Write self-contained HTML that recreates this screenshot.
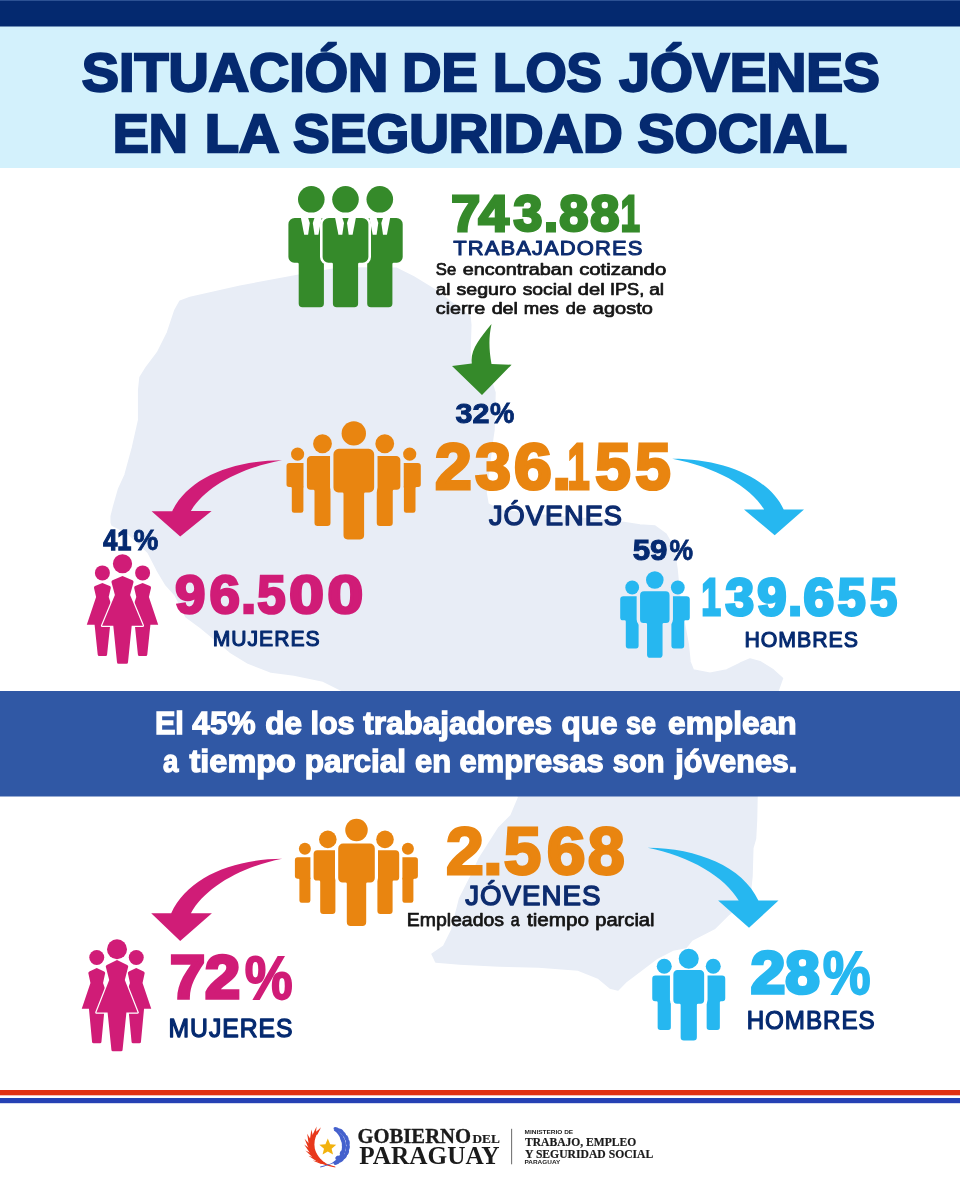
<!DOCTYPE html>
<html lang="es">
<head>
<meta charset="utf-8">
<title>Situación de los jóvenes en la seguridad social</title>
<style>
html,body{margin:0;padding:0;background:#ffffff;}
body{width:960px;height:1200px;overflow:hidden;font-family:"Liberation Sans",sans-serif;}
svg{display:block;}
text{white-space:pre;}
</style>
</head>
<body>
<svg width="960" height="1200" viewBox="0 0 960 1200">
<defs>
<mask id="m1" maskUnits="userSpaceOnUse" x="280" y="415" width="150" height="130"><rect x="280" y="415" width="150" height="130" fill="#fff"/><g fill="#000" stroke="#000" stroke-width="6.8" stroke-linejoin="round"><circle cx="322.50" cy="443.75" r="9.40"/><path d="M311.11,455.90 H333.89 A4.21,4.21 0 0 1 338.10,460.11 V485.96 A3.74,3.74 0 0 1 334.36,489.70 H331.70 A1.20,1.20 0 0 0 330.50,490.90 V522.70 A3.20,3.20 0 0 1 327.30,525.90 H317.70 A3.20,3.20 0 0 1 314.50,522.70 V490.90 A1.20,1.20 0 0 0 313.30,489.70 H310.64 A3.74,3.74 0 0 1 306.90,485.96 V460.11 A4.21,4.21 0 0 1 311.11,455.90 Z"/><circle cx="384.75" cy="443.75" r="9.40"/><path d="M373.36,455.90 H396.14 A4.21,4.21 0 0 1 400.35,460.11 V485.96 A3.74,3.74 0 0 1 396.61,489.70 H393.95 A1.20,1.20 0 0 0 392.75,490.90 V522.70 A3.20,3.20 0 0 1 389.55,525.90 H379.95 A3.20,3.20 0 0 1 376.75,522.70 V490.90 A1.20,1.20 0 0 0 375.55,489.70 H372.89 A3.74,3.74 0 0 1 369.15,485.96 V460.11 A4.21,4.21 0 0 1 373.36,455.90 Z"/></g><g fill="#000" stroke="#000" stroke-width="6.8" stroke-linejoin="round"><circle cx="353.80" cy="433.40" r="12.20"/><path d="M338.94,448.80 H368.66 A5.49,5.49 0 0 1 374.15,454.29 V487.62 A4.88,4.88 0 0 1 369.27,492.50 H365.30 A1.20,1.20 0 0 0 364.10,493.70 V535.28 A4.12,4.12 0 0 1 359.98,539.40 H347.62 A4.12,4.12 0 0 1 343.50,535.28 V493.70 A1.20,1.20 0 0 0 342.30,492.50 H338.33 A4.88,4.88 0 0 1 333.45,487.62 V454.29 A5.49,5.49 0 0 1 338.94,448.80 Z"/></g></mask>
<mask id="m2" maskUnits="userSpaceOnUse" x="280" y="415" width="150" height="130"><rect x="280" y="415" width="150" height="130" fill="#fff"/><g fill="#000" stroke="#000" stroke-width="6.8" stroke-linejoin="round"><circle cx="353.80" cy="433.40" r="12.20"/><path d="M338.94,448.80 H368.66 A5.49,5.49 0 0 1 374.15,454.29 V487.62 A4.88,4.88 0 0 1 369.27,492.50 H365.30 A1.20,1.20 0 0 0 364.10,493.70 V535.28 A4.12,4.12 0 0 1 359.98,539.40 H347.62 A4.12,4.12 0 0 1 343.50,535.28 V493.70 A1.20,1.20 0 0 0 342.30,492.50 H338.33 A4.88,4.88 0 0 1 333.45,487.62 V454.29 A5.49,5.49 0 0 1 338.94,448.80 Z"/></g></mask>
<mask id="m3" maskUnits="userSpaceOnUse" x="290" y="815" width="135" height="115"><rect x="290" y="815" width="135" height="115" fill="#fff"/><g fill="#000" stroke="#000" stroke-width="6.4" stroke-linejoin="round"><circle cx="327.80" cy="839.40" r="8.80"/><path d="M317.43,850.25 H338.17 A3.83,3.83 0 0 1 342.00,854.08 V877.19 A3.41,3.41 0 0 1 338.59,880.60 H336.60 A1.20,1.20 0 0 0 335.40,881.80 V910.96 A3.04,3.04 0 0 1 332.36,914.00 H323.24 A3.04,3.04 0 0 1 320.20,910.96 V881.80 A1.20,1.20 0 0 0 319.00,880.60 H317.01 A3.41,3.41 0 0 1 313.60,877.19 V854.08 A3.83,3.83 0 0 1 317.43,850.25 Z"/><circle cx="385.00" cy="839.40" r="8.80"/><path d="M374.63,850.25 H395.37 A3.83,3.83 0 0 1 399.20,854.08 V877.19 A3.41,3.41 0 0 1 395.79,880.60 H393.80 A1.20,1.20 0 0 0 392.60,881.80 V910.96 A3.04,3.04 0 0 1 389.56,914.00 H380.44 A3.04,3.04 0 0 1 377.40,910.96 V881.80 A1.20,1.20 0 0 0 376.20,880.60 H374.21 A3.41,3.41 0 0 1 370.80,877.19 V854.08 A3.83,3.83 0 0 1 374.63,850.25 Z"/></g><g fill="#000" stroke="#000" stroke-width="6.4" stroke-linejoin="round"><circle cx="356.50" cy="830.00" r="11.25"/><path d="M343.14,843.50 H369.86 A4.94,4.94 0 0 1 374.80,848.44 V878.11 A4.39,4.39 0 0 1 370.41,882.50 H367.40 A1.20,1.20 0 0 0 366.20,883.70 V922.12 A3.88,3.88 0 0 1 362.32,926.00 H350.68 A3.88,3.88 0 0 1 346.80,922.12 V883.70 A1.20,1.20 0 0 0 345.60,882.50 H342.59 A4.39,4.39 0 0 1 338.20,878.11 V848.44 A4.94,4.94 0 0 1 343.14,843.50 Z"/></g></mask>
<mask id="m4" maskUnits="userSpaceOnUse" x="290" y="815" width="135" height="115"><rect x="290" y="815" width="135" height="115" fill="#fff"/><g fill="#000" stroke="#000" stroke-width="6.4" stroke-linejoin="round"><circle cx="356.50" cy="830.00" r="11.25"/><path d="M343.14,843.50 H369.86 A4.94,4.94 0 0 1 374.80,848.44 V878.11 A4.39,4.39 0 0 1 370.41,882.50 H367.40 A1.20,1.20 0 0 0 366.20,883.70 V922.12 A3.88,3.88 0 0 1 362.32,926.00 H350.68 A3.88,3.88 0 0 1 346.80,922.12 V883.70 A1.20,1.20 0 0 0 345.60,882.50 H342.59 A4.39,4.39 0 0 1 338.20,878.11 V848.44 A4.94,4.94 0 0 1 343.14,843.50 Z"/></g></mask>
<mask id="m5" maskUnits="userSpaceOnUse" x="615" y="568" width="80" height="94"><rect x="615" y="568" width="80" height="94" fill="#fff"/><g fill="#000" stroke="#000" stroke-width="6.8" stroke-linejoin="round"><circle cx="654.80" cy="580.00" r="8.80"/><path d="M644.03,591.25 H665.57 A3.98,3.98 0 0 1 669.55,595.23 V619.56 A3.54,3.54 0 0 1 666.01,623.10 H663.75 A1.20,1.20 0 0 0 662.55,624.30 V654.70 A3.10,3.10 0 0 1 659.45,657.80 H650.15 A3.10,3.10 0 0 1 647.05,654.70 V624.30 A1.20,1.20 0 0 0 645.85,623.10 H643.59 A3.54,3.54 0 0 1 640.05,619.56 V595.23 A3.98,3.98 0 0 1 644.03,591.25 Z"/></g></mask>
<mask id="m6" maskUnits="userSpaceOnUse" x="648" y="945" width="82" height="100"><rect x="648" y="945" width="82" height="100" fill="#fff"/><g fill="#000" stroke="#000" stroke-width="6.8" stroke-linejoin="round"><circle cx="688.75" cy="958.75" r="10.00"/><path d="M677.51,970.00 H699.99 A4.16,4.16 0 0 1 704.15,974.16 V1000.05 A3.70,3.70 0 0 1 700.45,1003.75 H698.05 A1.20,1.20 0 0 0 696.85,1004.95 V1037.26 A3.24,3.24 0 0 1 693.61,1040.50 H683.89 A3.24,3.24 0 0 1 680.65,1037.26 V1004.95 A1.20,1.20 0 0 0 679.45,1003.75 H677.05 A3.70,3.70 0 0 1 673.35,1000.05 V974.16 A4.16,4.16 0 0 1 677.51,970.00 Z"/></g></mask>
<mask id="m7" maskUnits="userSpaceOnUse" x="80" y="550" width="85" height="118"><rect x="80" y="550" width="85" height="118" fill="#fff"/><g fill="#000" stroke="#000" stroke-width="2.4" stroke-linejoin="round"><path d="M122.50,575.90 L132.50,580.30 Q133.70,580.90 133.50,582.20 L130.10,595.00 L142.90,625.70 L131.70,625.70 L128.00,662.15 Q128.00,663.75 126.40,663.75 H118.60 Q117.00,663.75 117.00,662.15 L113.30,625.70 L102.10,625.70 L114.90,595.00 L111.50,582.20 Q111.30,580.90 112.50,580.30 Z"/></g></mask>
<mask id="m8" maskUnits="userSpaceOnUse" x="75" y="935" width="85" height="121"><rect x="75" y="935" width="85" height="121" fill="#fff"/><g fill="#000" stroke="#000" stroke-width="2.4" stroke-linejoin="round"><path d="M117.00,960.00 L127.20,964.90 Q128.40,965.50 128.20,966.80 L124.80,980.00 L137.60,1012.50 L126.40,1012.50 L122.60,1049.65 Q122.60,1051.25 121.00,1051.25 H113.00 Q111.40,1051.25 111.40,1049.65 L107.60,1012.50 L96.40,1012.50 L109.20,980.00 L105.80,966.80 Q105.60,965.50 106.80,964.90 Z"/></g></mask>
<mask id="m9" maskUnits="userSpaceOnUse" x="280" y="180" width="130" height="135"><rect x="280" y="180" width="130" height="135" fill="#fff"/><g fill="#000" stroke="#000" stroke-width="5.2" stroke-linejoin="round"><path d="M328.90,218.00 H362.10 A6.30,6.30 0 0 1 368.40,224.30 V256.90 A5.80,5.80 0 0 1 362.60,262.70 H359.30 A1.20,1.20 0 0 0 358.10,263.90 V303.50 A3.80,3.80 0 0 1 354.30,307.30 H336.70 A3.80,3.80 0 0 1 332.90,303.50 V263.90 A1.20,1.20 0 0 0 331.70,262.70 H328.40 A5.80,5.80 0 0 1 322.60,256.90 V224.30 A6.30,6.30 0 0 1 328.90,218.00 Z"/></g></mask>
</defs>
<rect x="0" y="0" width="960" height="1200" fill="#ffffff"/>
<rect x="0" y="26" width="960" height="142" fill="#D3F1FC"/>
<rect x="0" y="0" width="960" height="26.5" fill="#04296F"/>
<rect x="0" y="0" width="960" height="1" fill="#2C5193"/>
<path fill="#E8EDF6" stroke="#E8EDF6" stroke-width="1.5" stroke-linejoin="round" d="M180,301.2 L190,297.5 L240,286.2 L300,275 L340,268 L396.7,268.3 L413.3,276.7 L435,290 L455,305 L470,316.7 L470.8,325 L470,350 L471,366 L480,372 L491,380 L495,392.5 L494,430 L492.5,440 L486,492.5 L488,504 L500,510 L540,515 L590,519 L624,522.5 L640,525 L655,526 L666,534 L674,548 L677,569 L680,600 L688.3,645 L690,661.7 L693.3,670 L710,673.3 L726.7,670 L740,663.3 L750,659 L760,661.7 L773.3,670 L782.5,678.3 L778.3,690 L765,740 L757,796.6 L756.5,820 L755.5,838.7 L752.8,848 L752,876 L750,895 L740,905 L727.5,915.6 L714.4,928.7 L692,940 L686,947.5 L673,950 L657.5,958 L641.7,970 L625.8,982 L618,990 L610,988 L598,978 L578,970 L538.7,967 L499,966 L459.6,964 L435.8,962 L432,954 L443.7,946 L451.7,930 L459.6,898.7 L471.5,875 L479,859 L499,827.5 L511,815.6 L519,796.6 L430,743 L341,690 L323,681 L294,675 L271,672 L248,663 L230,652 L201,628 L186,617 L175,595 L166,585 L157,570 L148,552.5 L127.5,533 L112,525 L111.2,522.5 L111.2,516.2 L113.7,506.2 L118.7,488.7 L125,475 L132.5,447.5 L138.7,420 L138.7,390 L140,377.5 L146.2,367.5 L157.5,352.5 L167.5,332.5 L175,310 Z"/>
<rect x="0" y="691" width="960" height="105.5" fill="#3058A5"/>
<rect x="0" y="1090" width="960" height="5.3" fill="#E23112"/>
<rect x="0" y="1098" width="960" height="5.2" fill="#2541B4"/>
<text y="91.40" font-family="'Liberation Sans', sans-serif" font-weight="bold" font-size="53.65" fill="#052A70" stroke="#052A70" stroke-width="2.3" stroke-linejoin="miter" stroke-miterlimit="3"><tspan x="81.78" textLength="306.51" lengthAdjust="spacingAndGlyphs">SITUACIÓN</tspan> <tspan x="402.26" textLength="75.33" lengthAdjust="spacingAndGlyphs">DE</tspan> <tspan x="493.05" textLength="108.86" lengthAdjust="spacingAndGlyphs">LOS</tspan> <tspan x="619.28" textLength="260.61" lengthAdjust="spacingAndGlyphs">JÓVENES</tspan></text>
<text y="151.60" font-family="'Liberation Sans', sans-serif" font-weight="bold" font-size="54.01" fill="#052A70" stroke="#052A70" stroke-width="2.3" stroke-linejoin="miter" stroke-miterlimit="3"><tspan x="112.68" textLength="75.17" lengthAdjust="spacingAndGlyphs">EN</tspan> <tspan x="204.81" textLength="72.68" lengthAdjust="spacingAndGlyphs">LA</tspan> <tspan x="293.13" textLength="329.67" lengthAdjust="spacingAndGlyphs">SEGURIDAD</tspan> <tspan x="637.49" textLength="209.71" lengthAdjust="spacingAndGlyphs">SOCIAL</tspan></text>
<text y="231.20" font-family="'Liberation Sans', sans-serif" font-weight="bold" font-size="50.56" fill="#358A2A" stroke="#358A2A" stroke-width="2.9" stroke-linejoin="miter" stroke-miterlimit="3"><tspan x="451.22" textLength="28.91" lengthAdjust="spacingAndGlyphs">7</tspan><tspan x="478.42" textLength="30.23" lengthAdjust="spacingAndGlyphs">4</tspan><tspan x="513.55" textLength="28.88" lengthAdjust="spacingAndGlyphs">3</tspan><tspan x="543.88" textLength="14.05" lengthAdjust="spacingAndGlyphs">.</tspan><tspan x="559.17" textLength="29.13" lengthAdjust="spacingAndGlyphs">8</tspan><tspan x="590.38" textLength="29.13" lengthAdjust="spacingAndGlyphs">8</tspan><tspan x="620.78" textLength="19.09" lengthAdjust="spacingAndGlyphs">1</tspan></text>
<text x="453.30" y="255.10" font-family="'Liberation Sans', sans-serif" font-weight="normal" font-size="21.12" fill="#0D2C6F" textLength="190.16" lengthAdjust="spacingAndGlyphs" letter-spacing="1.0" stroke="#0D2C6F" stroke-width="1.0" stroke-linejoin="round" stroke-miterlimit="3">TRABAJADORES</text>
<text y="274.85" font-family="'Liberation Sans', sans-serif" font-weight="normal" font-size="16.45" fill="#151515" stroke="#151515" stroke-width="0.7" stroke-linejoin="round" stroke-miterlimit="3"><tspan x="435.80" textLength="20.37" lengthAdjust="spacingAndGlyphs">Se</tspan> <tspan x="462.85" textLength="110.06" lengthAdjust="spacingAndGlyphs">encontraban</tspan> <tspan x="579.15" textLength="87.06" lengthAdjust="spacingAndGlyphs">cotizando</tspan></text>
<text y="294.85" font-family="'Liberation Sans', sans-serif" font-weight="normal" font-size="16.45" fill="#151515" stroke="#151515" stroke-width="0.7" stroke-linejoin="round" stroke-miterlimit="3"><tspan x="435.80" textLength="14.71" lengthAdjust="spacingAndGlyphs">al</tspan> <tspan x="456.48" textLength="59.87" lengthAdjust="spacingAndGlyphs">seguro</tspan> <tspan x="522.67" textLength="49.47" lengthAdjust="spacingAndGlyphs">social</tspan> <tspan x="577.85" textLength="26.90" lengthAdjust="spacingAndGlyphs">del</tspan> <tspan x="609.90" textLength="34.29" lengthAdjust="spacingAndGlyphs">IPS,</tspan> <tspan x="649.15" textLength="14.98" lengthAdjust="spacingAndGlyphs">al</tspan></text>
<text y="314.35" font-family="'Liberation Sans', sans-serif" font-weight="normal" font-size="16.79" fill="#151515" stroke="#151515" stroke-width="0.7" stroke-linejoin="round" stroke-miterlimit="3"><tspan x="435.80" textLength="49.36" lengthAdjust="spacingAndGlyphs">cierre</tspan> <tspan x="491.65" textLength="26.33" lengthAdjust="spacingAndGlyphs">del</tspan> <tspan x="523.70" textLength="35.06" lengthAdjust="spacingAndGlyphs">mes</tspan> <tspan x="565.80" textLength="20.24" lengthAdjust="spacingAndGlyphs">de</tspan> <tspan x="592.85" textLength="60.06" lengthAdjust="spacingAndGlyphs">agosto</tspan></text>
<text font-family="'Liberation Sans', sans-serif" fill="#052A70"><tspan x="455.50" y="422.65" font-size="28.31" font-weight="bold" textLength="33.89" lengthAdjust="spacingAndGlyphs" stroke="#052A70" stroke-width="1.0" stroke-linejoin="miter" stroke-miterlimit="3">32</tspan><tspan x="489.98" y="422.90" font-size="28.97" font-weight="bold" textLength="24.32" lengthAdjust="spacingAndGlyphs" stroke="#052A70" stroke-width="0.8" stroke-linejoin="miter" stroke-miterlimit="3">%</tspan></text>
<text y="489.45" font-family="'Liberation Sans', sans-serif" font-weight="bold" font-size="64.56" fill="#E98510" stroke="#E98510" stroke-width="3.1" stroke-linejoin="miter" stroke-miterlimit="3"><tspan x="434.92" textLength="36.70" lengthAdjust="spacingAndGlyphs">2</tspan><tspan x="475.22" textLength="35.66" lengthAdjust="spacingAndGlyphs">3</tspan><tspan x="514.10" textLength="37.74" lengthAdjust="spacingAndGlyphs">6</tspan><tspan x="552.38" textLength="19.03" lengthAdjust="spacingAndGlyphs">.</tspan><tspan x="567.62" textLength="22.16" lengthAdjust="spacingAndGlyphs">1</tspan><tspan x="595.17" textLength="35.41" lengthAdjust="spacingAndGlyphs">5</tspan><tspan x="635.28" textLength="35.41" lengthAdjust="spacingAndGlyphs">5</tspan></text>
<text x="489.02" y="524.85" font-family="'Liberation Sans', sans-serif" font-weight="normal" font-size="27.94" fill="#0D2C6F" textLength="133.89" lengthAdjust="spacingAndGlyphs" letter-spacing="1.0" stroke="#0D2C6F" stroke-width="1.4" stroke-linejoin="round" stroke-miterlimit="3">JÓVENES</text>
<text font-family="'Liberation Sans', sans-serif" fill="#052A70"><tspan x="103.32" y="549.50" font-size="28.97" font-weight="bold" textLength="28.12" lengthAdjust="spacingAndGlyphs" stroke="#052A70" stroke-width="1.3" stroke-linejoin="miter" stroke-miterlimit="3">41</tspan><tspan x="133.58" y="549.50" font-size="28.97" font-weight="bold" textLength="24.83" lengthAdjust="spacingAndGlyphs" stroke="#052A70" stroke-width="0.8" stroke-linejoin="miter" stroke-miterlimit="3">%</tspan></text>
<text y="613.25" font-family="'Liberation Sans', sans-serif" font-weight="bold" font-size="53.43" fill="#D01C77" stroke="#D01C77" stroke-width="2.6" stroke-linejoin="miter" stroke-miterlimit="3"><tspan x="175.02" textLength="30.47" lengthAdjust="spacingAndGlyphs">9</tspan><tspan x="209.42" textLength="30.50" lengthAdjust="spacingAndGlyphs">6</tspan><tspan x="240.90" textLength="15.21" lengthAdjust="spacingAndGlyphs">.</tspan><tspan x="257.27" textLength="28.42" lengthAdjust="spacingAndGlyphs">5</tspan><tspan x="289.10" textLength="35.02" lengthAdjust="spacingAndGlyphs">0</tspan><tspan x="327.20" textLength="36.06" lengthAdjust="spacingAndGlyphs">0</tspan></text>
<text x="212.68" y="645.50" font-family="'Liberation Sans', sans-serif" font-weight="normal" font-size="21.83" fill="#052A70" textLength="107.98" lengthAdjust="spacingAndGlyphs" letter-spacing="1.0" stroke="#052A70" stroke-width="1.1" stroke-linejoin="round" stroke-miterlimit="3">MUJERES</text>
<text font-family="'Liberation Sans', sans-serif" fill="#052A70"><tspan x="632.65" y="559.75" font-size="29.63" font-weight="bold" textLength="34.84" lengthAdjust="spacingAndGlyphs" stroke="#052A70" stroke-width="1.0" stroke-linejoin="miter" stroke-miterlimit="3">59</tspan><tspan x="669.48" y="560.00" font-size="29.96" font-weight="bold" textLength="23.55" lengthAdjust="spacingAndGlyphs" stroke="#052A70" stroke-width="0.8" stroke-linejoin="miter" stroke-miterlimit="3">%</tspan></text>
<text y="615.20" font-family="'Liberation Sans', sans-serif" font-weight="bold" font-size="51.74" fill="#26B7F0" stroke="#26B7F0" stroke-width="3.1" stroke-linejoin="miter" stroke-miterlimit="3"><tspan x="701.38" textLength="19.28" lengthAdjust="spacingAndGlyphs">1</tspan><tspan x="725.45" textLength="28.51" lengthAdjust="spacingAndGlyphs">3</tspan><tspan x="757.28" textLength="29.29" lengthAdjust="spacingAndGlyphs">9</tspan><tspan x="788.20" textLength="13.69" lengthAdjust="spacingAndGlyphs">.</tspan><tspan x="803.52" textLength="30.55" lengthAdjust="spacingAndGlyphs">6</tspan><tspan x="837.72" textLength="27.79" lengthAdjust="spacingAndGlyphs">5</tspan><tspan x="870.22" textLength="26.78" lengthAdjust="spacingAndGlyphs">5</tspan></text>
<text x="744.38" y="647.00" font-family="'Liberation Sans', sans-serif" font-weight="normal" font-size="22.19" fill="#052A70" textLength="114.58" lengthAdjust="spacingAndGlyphs" letter-spacing="1.0" stroke="#052A70" stroke-width="1.1" stroke-linejoin="round" stroke-miterlimit="3">HOMBRES</text>
<text y="734.40" font-family="'Liberation Sans', sans-serif" font-weight="bold" font-size="31.11" fill="#ffffff" stroke="#ffffff" stroke-width="1.3" stroke-linejoin="miter" stroke-miterlimit="3"><tspan x="154.93" textLength="28.98" lengthAdjust="spacingAndGlyphs">El</tspan> <tspan x="192.36" textLength="63.20" lengthAdjust="spacingAndGlyphs">45%</tspan> <tspan x="265.16" textLength="36.74" lengthAdjust="spacingAndGlyphs">de</tspan> <tspan x="310.45" textLength="44.16" lengthAdjust="spacingAndGlyphs">los</tspan> <tspan x="363.33" textLength="188.66" lengthAdjust="spacingAndGlyphs">trabajadores</tspan> <tspan x="561.59" textLength="55.94" lengthAdjust="spacingAndGlyphs">que</tspan> <tspan x="626.03" textLength="29.98" lengthAdjust="spacingAndGlyphs">se</tspan> <tspan x="668.05" textLength="128.58" lengthAdjust="spacingAndGlyphs">emplean</tspan></text>
<text y="772.30" font-family="'Liberation Sans', sans-serif" font-weight="bold" font-size="31.11" fill="#ffffff" stroke="#ffffff" stroke-width="1.3" stroke-linejoin="miter" stroke-miterlimit="3"><tspan x="163.08" textLength="15.38" lengthAdjust="spacingAndGlyphs">a</tspan> <tspan x="189.52" textLength="106.40" lengthAdjust="spacingAndGlyphs">tiempo</tspan> <tspan x="304.75" textLength="101.27" lengthAdjust="spacingAndGlyphs">parcial</tspan> <tspan x="415.12" textLength="36.05" lengthAdjust="spacingAndGlyphs">en</tspan> <tspan x="459.62" textLength="143.91" lengthAdjust="spacingAndGlyphs">empresas</tspan> <tspan x="612.78" textLength="51.69" lengthAdjust="spacingAndGlyphs">son</tspan> <tspan x="675.32" textLength="121.95" lengthAdjust="spacingAndGlyphs">jóvenes.</tspan></text>
<text y="873.60" font-family="'Liberation Sans', sans-serif" font-weight="bold" font-size="66.99" fill="#E98510" stroke="#E98510" stroke-width="2.8" stroke-linejoin="miter" stroke-miterlimit="3"><tspan x="446.00" textLength="37.79" lengthAdjust="spacingAndGlyphs">2</tspan><tspan x="483.12" textLength="19.76" lengthAdjust="spacingAndGlyphs">.</tspan><tspan x="503.85" textLength="37.53" lengthAdjust="spacingAndGlyphs">5</tspan><tspan x="546.78" textLength="38.87" lengthAdjust="spacingAndGlyphs">6</tspan><tspan x="587.72" textLength="37.01" lengthAdjust="spacingAndGlyphs">8</tspan></text>
<text x="465.22" y="905.45" font-family="'Liberation Sans', sans-serif" font-weight="normal" font-size="28.30" fill="#0D2C6F" textLength="136.26" lengthAdjust="spacingAndGlyphs" letter-spacing="1.0" stroke="#0D2C6F" stroke-width="1.4" stroke-linejoin="round" stroke-miterlimit="3">JÓVENES</text>
<text y="926.15" font-family="'Liberation Sans', sans-serif" font-weight="normal" font-size="18.59" fill="#151515" stroke="#151515" stroke-width="0.75" stroke-linejoin="round" stroke-miterlimit="3"><tspan x="406.72" textLength="97.32" lengthAdjust="spacingAndGlyphs">Empleados</tspan> <tspan x="510.78" textLength="8.83" lengthAdjust="spacingAndGlyphs">a</tspan> <tspan x="527.00" textLength="62.07" lengthAdjust="spacingAndGlyphs">tiempo</tspan> <tspan x="595.20" textLength="59.38" lengthAdjust="spacingAndGlyphs">parcial</tspan></text>
<text font-family="'Liberation Sans', sans-serif" fill="#D01C77"><tspan x="170.00" y="998.05" font-size="60.81" font-weight="bold" textLength="70.13" lengthAdjust="spacingAndGlyphs" stroke="#D01C77" stroke-width="3.5" stroke-linejoin="miter" stroke-miterlimit="3">72</tspan><tspan x="244.85" y="998.55" font-size="61.77" font-weight="bold" textLength="47.89" lengthAdjust="spacingAndGlyphs" stroke="#D01C77" stroke-width="1.8" stroke-linejoin="miter" stroke-miterlimit="3">%</tspan></text>
<text x="168.55" y="1036.50" font-family="'Liberation Sans', sans-serif" font-weight="normal" font-size="26.11" fill="#052A70" textLength="124.86" lengthAdjust="spacingAndGlyphs" letter-spacing="1.0" stroke="#052A70" stroke-width="1.3" stroke-linejoin="round" stroke-miterlimit="3">MUJERES</text>
<text font-family="'Liberation Sans', sans-serif" fill="#26B7F0"><tspan x="750.68" y="993.05" font-size="58.91" font-weight="bold" textLength="69.00" lengthAdjust="spacingAndGlyphs" stroke="#26B7F0" stroke-width="3.5" stroke-linejoin="miter" stroke-miterlimit="3">28</tspan><tspan x="822.65" y="993.55" font-size="60.82" font-weight="bold" textLength="47.83" lengthAdjust="spacingAndGlyphs" stroke="#26B7F0" stroke-width="1.8" stroke-linejoin="miter" stroke-miterlimit="3">%</tspan></text>
<text x="746.65" y="1028.50" font-family="'Liberation Sans', sans-serif" font-weight="normal" font-size="25.04" fill="#052A70" textLength="128.96" lengthAdjust="spacingAndGlyphs" letter-spacing="1.0" stroke="#052A70" stroke-width="1.2" stroke-linejoin="round" stroke-miterlimit="3">HOMBRES</text>
<g fill="#E98510" mask="url(#m1)"><circle cx="297.60" cy="454.10" r="6.60"/><path d="M289.50,463.10 H305.70 A3.00,3.00 0 0 1 308.70,466.10 V484.24 A2.66,2.66 0 0 1 306.04,486.90 H304.60 A1.20,1.20 0 0 0 303.40,488.10 V510.43 A2.32,2.32 0 0 1 301.08,512.75 H294.12 A2.32,2.32 0 0 1 291.80,510.43 V488.10 A1.20,1.20 0 0 0 290.60,486.90 H289.16 A2.66,2.66 0 0 1 286.50,484.24 V466.10 A3.00,3.00 0 0 1 289.50,463.10 Z"/><circle cx="409.70" cy="454.10" r="6.60"/><path d="M401.60,463.10 H417.80 A3.00,3.00 0 0 1 420.80,466.10 V484.24 A2.66,2.66 0 0 1 418.14,486.90 H416.70 A1.20,1.20 0 0 0 415.50,488.10 V510.43 A2.32,2.32 0 0 1 413.18,512.75 H406.22 A2.32,2.32 0 0 1 403.90,510.43 V488.10 A1.20,1.20 0 0 0 402.70,486.90 H401.26 A2.66,2.66 0 0 1 398.60,484.24 V466.10 A3.00,3.00 0 0 1 401.60,463.10 Z"/></g><g fill="#E98510" mask="url(#m2)"><circle cx="322.50" cy="443.75" r="9.40"/><path d="M311.11,455.90 H333.89 A4.21,4.21 0 0 1 338.10,460.11 V485.96 A3.74,3.74 0 0 1 334.36,489.70 H331.70 A1.20,1.20 0 0 0 330.50,490.90 V522.70 A3.20,3.20 0 0 1 327.30,525.90 H317.70 A3.20,3.20 0 0 1 314.50,522.70 V490.90 A1.20,1.20 0 0 0 313.30,489.70 H310.64 A3.74,3.74 0 0 1 306.90,485.96 V460.11 A4.21,4.21 0 0 1 311.11,455.90 Z"/><circle cx="384.75" cy="443.75" r="9.40"/><path d="M373.36,455.90 H396.14 A4.21,4.21 0 0 1 400.35,460.11 V485.96 A3.74,3.74 0 0 1 396.61,489.70 H393.95 A1.20,1.20 0 0 0 392.75,490.90 V522.70 A3.20,3.20 0 0 1 389.55,525.90 H379.95 A3.20,3.20 0 0 1 376.75,522.70 V490.90 A1.20,1.20 0 0 0 375.55,489.70 H372.89 A3.74,3.74 0 0 1 369.15,485.96 V460.11 A4.21,4.21 0 0 1 373.36,455.90 Z"/></g><g fill="#E98510"><circle cx="353.80" cy="433.40" r="12.20"/><path d="M338.94,448.80 H368.66 A5.49,5.49 0 0 1 374.15,454.29 V487.62 A4.88,4.88 0 0 1 369.27,492.50 H365.30 A1.20,1.20 0 0 0 364.10,493.70 V535.28 A4.12,4.12 0 0 1 359.98,539.40 H347.62 A4.12,4.12 0 0 1 343.50,535.28 V493.70 A1.20,1.20 0 0 0 342.30,492.50 H338.33 A4.88,4.88 0 0 1 333.45,487.62 V454.29 A5.49,5.49 0 0 1 338.94,448.80 Z"/></g>
<g fill="#E98510" mask="url(#m3)"><circle cx="304.90" cy="848.75" r="6.00"/><path d="M297.60,857.20 H312.20 A2.70,2.70 0 0 1 314.90,859.90 V876.35 A2.40,2.40 0 0 1 312.50,878.75 H311.45 A1.05,1.05 0 0 0 310.40,879.80 V900.55 A2.20,2.20 0 0 1 308.20,902.75 H301.60 A2.20,2.20 0 0 1 299.40,900.55 V879.80 A1.05,1.05 0 0 0 298.35,878.75 H297.30 A2.40,2.40 0 0 1 294.90,876.35 V859.90 A2.70,2.70 0 0 1 297.60,857.20 Z"/><circle cx="407.90" cy="848.75" r="6.00"/><path d="M400.60,857.20 H415.20 A2.70,2.70 0 0 1 417.90,859.90 V876.35 A2.40,2.40 0 0 1 415.50,878.75 H414.45 A1.05,1.05 0 0 0 413.40,879.80 V900.55 A2.20,2.20 0 0 1 411.20,902.75 H404.60 A2.20,2.20 0 0 1 402.40,900.55 V879.80 A1.05,1.05 0 0 0 401.35,878.75 H400.30 A2.40,2.40 0 0 1 397.90,876.35 V859.90 A2.70,2.70 0 0 1 400.60,857.20 Z"/></g><g fill="#E98510" mask="url(#m4)"><circle cx="327.80" cy="839.40" r="8.80"/><path d="M317.43,850.25 H338.17 A3.83,3.83 0 0 1 342.00,854.08 V877.19 A3.41,3.41 0 0 1 338.59,880.60 H336.60 A1.20,1.20 0 0 0 335.40,881.80 V910.96 A3.04,3.04 0 0 1 332.36,914.00 H323.24 A3.04,3.04 0 0 1 320.20,910.96 V881.80 A1.20,1.20 0 0 0 319.00,880.60 H317.01 A3.41,3.41 0 0 1 313.60,877.19 V854.08 A3.83,3.83 0 0 1 317.43,850.25 Z"/><circle cx="385.00" cy="839.40" r="8.80"/><path d="M374.63,850.25 H395.37 A3.83,3.83 0 0 1 399.20,854.08 V877.19 A3.41,3.41 0 0 1 395.79,880.60 H393.80 A1.20,1.20 0 0 0 392.60,881.80 V910.96 A3.04,3.04 0 0 1 389.56,914.00 H380.44 A3.04,3.04 0 0 1 377.40,910.96 V881.80 A1.20,1.20 0 0 0 376.20,880.60 H374.21 A3.41,3.41 0 0 1 370.80,877.19 V854.08 A3.83,3.83 0 0 1 374.63,850.25 Z"/></g><g fill="#E98510"><circle cx="356.50" cy="830.00" r="11.25"/><path d="M343.14,843.50 H369.86 A4.94,4.94 0 0 1 374.80,848.44 V878.11 A4.39,4.39 0 0 1 370.41,882.50 H367.40 A1.20,1.20 0 0 0 366.20,883.70 V922.12 A3.88,3.88 0 0 1 362.32,926.00 H350.68 A3.88,3.88 0 0 1 346.80,922.12 V883.70 A1.20,1.20 0 0 0 345.60,882.50 H342.59 A4.39,4.39 0 0 1 338.20,878.11 V848.44 A4.94,4.94 0 0 1 343.14,843.50 Z"/></g>
<g fill="#26B7F0" mask="url(#m5)"><circle cx="632.20" cy="587.50" r="6.90"/><path d="M623.44,596.30 H640.96 A3.24,3.24 0 0 1 644.20,599.54 V617.42 A2.88,2.88 0 0 1 641.32,620.30 H639.80 A1.20,1.20 0 0 0 638.60,621.50 V645.84 A2.56,2.56 0 0 1 636.04,648.40 H628.36 A2.56,2.56 0 0 1 625.80,645.84 V621.50 A1.20,1.20 0 0 0 624.60,620.30 H623.08 A2.88,2.88 0 0 1 620.20,617.42 V599.54 A3.24,3.24 0 0 1 623.44,596.30 Z"/><circle cx="677.80" cy="587.50" r="6.90"/><path d="M669.04,596.30 H686.56 A3.24,3.24 0 0 1 689.80,599.54 V617.42 A2.88,2.88 0 0 1 686.92,620.30 H685.40 A1.20,1.20 0 0 0 684.20,621.50 V645.84 A2.56,2.56 0 0 1 681.64,648.40 H673.96 A2.56,2.56 0 0 1 671.40,645.84 V621.50 A1.20,1.20 0 0 0 670.20,620.30 H668.68 A2.88,2.88 0 0 1 665.80,617.42 V599.54 A3.24,3.24 0 0 1 669.04,596.30 Z"/></g><g fill="#26B7F0"><circle cx="654.80" cy="580.00" r="8.80"/><path d="M644.03,591.25 H665.57 A3.98,3.98 0 0 1 669.55,595.23 V619.56 A3.54,3.54 0 0 1 666.01,623.10 H663.75 A1.20,1.20 0 0 0 662.55,624.30 V654.70 A3.10,3.10 0 0 1 659.45,657.80 H650.15 A3.10,3.10 0 0 1 647.05,654.70 V624.30 A1.20,1.20 0 0 0 645.85,623.10 H643.59 A3.54,3.54 0 0 1 640.05,619.56 V595.23 A3.98,3.98 0 0 1 644.03,591.25 Z"/></g>
<g fill="#26B7F0" mask="url(#m6)"><circle cx="664.25" cy="966.25" r="7.50"/><path d="M655.49,975.50 H673.01 A3.24,3.24 0 0 1 676.25,978.74 V998.37 A2.88,2.88 0 0 1 673.37,1001.25 H672.05 A1.20,1.20 0 0 0 670.85,1002.45 V1027.36 A2.64,2.64 0 0 1 668.21,1030.00 H660.29 A2.64,2.64 0 0 1 657.65,1027.36 V1002.45 A1.20,1.20 0 0 0 656.45,1001.25 H655.13 A2.88,2.88 0 0 1 652.25,998.37 V978.74 A3.24,3.24 0 0 1 655.49,975.50 Z"/><circle cx="713.25" cy="966.25" r="7.50"/><path d="M704.49,975.50 H722.01 A3.24,3.24 0 0 1 725.25,978.74 V998.37 A2.88,2.88 0 0 1 722.37,1001.25 H721.05 A1.20,1.20 0 0 0 719.85,1002.45 V1027.36 A2.64,2.64 0 0 1 717.21,1030.00 H709.29 A2.64,2.64 0 0 1 706.65,1027.36 V1002.45 A1.20,1.20 0 0 0 705.45,1001.25 H704.13 A2.88,2.88 0 0 1 701.25,998.37 V978.74 A3.24,3.24 0 0 1 704.49,975.50 Z"/></g><g fill="#26B7F0"><circle cx="688.75" cy="958.75" r="10.00"/><path d="M677.51,970.00 H699.99 A4.16,4.16 0 0 1 704.15,974.16 V1000.05 A3.70,3.70 0 0 1 700.45,1003.75 H698.05 A1.20,1.20 0 0 0 696.85,1004.95 V1037.26 A3.24,3.24 0 0 1 693.61,1040.50 H683.89 A3.24,3.24 0 0 1 680.65,1037.26 V1004.95 A1.20,1.20 0 0 0 679.45,1003.75 H677.05 A3.70,3.70 0 0 1 673.35,1000.05 V974.16 A4.16,4.16 0 0 1 677.51,970.00 Z"/></g>
<g fill="#D01C77" mask="url(#m7)"><circle cx="102.40" cy="572.90" r="7.50"/><path d="M102.40,583.00 L109.80,586.10 Q111.00,586.70 110.80,588.00 L108.70,597.00 L118.00,624.70 L110.20,624.70 L107.10,654.40 Q107.10,656.00 105.50,656.00 H99.30 Q97.70,656.00 97.70,654.40 L94.60,624.70 L86.80,624.70 L96.10,597.00 L94.00,588.00 Q93.80,586.70 95.00,586.10 Z"/><circle cx="142.60" cy="572.90" r="7.50"/><path d="M142.60,583.00 L150.00,586.10 Q151.20,586.70 151.00,588.00 L148.90,597.00 L158.20,624.70 L150.40,624.70 L147.30,654.40 Q147.30,656.00 145.70,656.00 H139.50 Q137.90,656.00 137.90,654.40 L134.80,624.70 L127.00,624.70 L136.30,597.00 L134.20,588.00 Q134.00,586.70 135.20,586.10 Z"/></g><g fill="#D01C77"><circle cx="122.50" cy="563.75" r="9.60"/><path d="M122.50,575.90 L132.50,580.30 Q133.70,580.90 133.50,582.20 L130.10,595.00 L142.90,625.70 L131.70,625.70 L128.00,662.15 Q128.00,663.75 126.40,663.75 H118.60 Q117.00,663.75 117.00,662.15 L113.30,625.70 L102.10,625.70 L114.90,595.00 L111.50,582.20 Q111.30,580.90 112.50,580.30 Z"/></g>
<g fill="#D01C77" mask="url(#m8)"><circle cx="96.75" cy="957.50" r="7.50"/><path d="M96.75,968.00 L104.15,971.40 Q105.35,972.00 105.15,973.30 L103.05,983.00 L111.75,1008.75 L104.55,1008.75 L101.45,1041.65 Q101.45,1043.25 99.85,1043.25 H93.65 Q92.05,1043.25 92.05,1041.65 L88.95,1008.75 L81.75,1008.75 L90.45,983.00 L88.35,973.30 Q88.15,972.00 89.35,971.40 Z"/><circle cx="136.25" cy="957.50" r="7.50"/><path d="M136.25,968.00 L143.65,971.40 Q144.85,972.00 144.65,973.30 L142.55,983.00 L151.25,1008.75 L144.05,1008.75 L140.95,1041.65 Q140.95,1043.25 139.35,1043.25 H133.15 Q131.55,1043.25 131.55,1041.65 L128.45,1008.75 L121.25,1008.75 L129.95,983.00 L127.85,973.30 Q127.65,972.00 128.85,971.40 Z"/></g><g fill="#D01C77"><circle cx="117.00" cy="949.25" r="10.00"/><path d="M117.00,960.00 L127.20,964.90 Q128.40,965.50 128.20,966.80 L124.80,980.00 L137.60,1012.50 L126.40,1012.50 L122.60,1049.65 Q122.60,1051.25 121.00,1051.25 H113.00 Q111.40,1051.25 111.40,1049.65 L107.60,1012.50 L96.40,1012.50 L109.20,980.00 L105.80,966.80 Q105.60,965.50 106.80,964.90 Z"/></g>
<g mask="url(#m9)">
<g fill="#358A2A"><circle cx="311.30" cy="199.30" r="13.30"/><path d="M294.70,218.00 H327.90 A6.30,6.30 0 0 1 334.20,224.30 V256.90 A5.80,5.80 0 0 1 328.40,262.70 H325.10 A1.20,1.20 0 0 0 323.90,263.90 V303.50 A3.80,3.80 0 0 1 320.10,307.30 H302.50 A3.80,3.80 0 0 1 298.70,303.50 V263.90 A1.20,1.20 0 0 0 297.50,262.70 H294.20 A5.80,5.80 0 0 1 288.40,256.90 V224.30 A6.30,6.30 0 0 1 294.70,218.00 Z"/><circle cx="379.80" cy="199.30" r="13.30"/><path d="M363.20,218.00 H396.40 A6.30,6.30 0 0 1 402.70,224.30 V256.90 A5.80,5.80 0 0 1 396.90,262.70 H393.60 A1.20,1.20 0 0 0 392.40,263.90 V303.50 A3.80,3.80 0 0 1 388.60,307.30 H371.00 A3.80,3.80 0 0 1 367.20,303.50 V263.90 A1.20,1.20 0 0 0 366.00,262.70 H362.70 A5.80,5.80 0 0 1 356.90,256.90 V224.30 A6.30,6.30 0 0 1 363.20,218.00 Z"/></g>
<path fill="#ffffff" d="M300.90,217.70 L308.10,217.70 L309.80,223.00 L308.10,234.70 L304.20,234.70 Z"/>
<path fill="#ffffff" d="M321.70,217.70 L314.50,217.70 L312.80,223.00 L314.50,234.70 L318.40,234.70 Z"/>
<path fill="#ffffff" d="M369.40,217.70 L376.60,217.70 L378.30,223.00 L376.60,234.70 L372.70,234.70 Z"/>
<path fill="#ffffff" d="M390.20,217.70 L383.00,217.70 L381.30,223.00 L383.00,234.70 L386.90,234.70 Z"/>
</g>
<g fill="#358A2A"><circle cx="345.50" cy="199.30" r="13.30"/><path d="M328.90,218.00 H362.10 A6.30,6.30 0 0 1 368.40,224.30 V256.90 A5.80,5.80 0 0 1 362.60,262.70 H359.30 A1.20,1.20 0 0 0 358.10,263.90 V303.50 A3.80,3.80 0 0 1 354.30,307.30 H336.70 A3.80,3.80 0 0 1 332.90,303.50 V263.90 A1.20,1.20 0 0 0 331.70,262.70 H328.40 A5.80,5.80 0 0 1 322.60,256.90 V224.30 A6.30,6.30 0 0 1 328.90,218.00 Z"/></g>
<path fill="#ffffff" d="M335.10,217.70 L342.30,217.70 L344.00,223.00 L342.30,234.70 L338.40,234.70 Z"/>
<path fill="#ffffff" d="M355.90,217.70 L348.70,217.70 L347.00,223.00 L348.70,234.70 L352.60,234.70 Z"/>
<path fill="#358A2A" d="M491.5,324 C480,338 470,350 471.8,363.5 L452,366 L482,395 L511.6,364.7 L491.5,364 C489,350 488.5,338 491.5,324 Z"/>
<path fill="#D01C77" d="M282,460.2 C232,460.5 188,478 172.2,511.2 L151.6,511.2 L180.2,536.6 L211.6,511 L190.9,511 C205,487 240,468 282,460.2 Z"/>
<path fill="#26B7F0" d="M672.2,458.7 C722,458.7 768,476.5 783.7,509.4 L804,509.4 L774.7,535.2 L744,509.4 L764.1,509.4 C750,486 715,467 672.2,458.7 Z"/>
<path fill="#D01C77" d="M282.2,858.8 C232,859 187,878 171.2,913.2 L151.2,913.2 L180.2,940.9 L211.9,913.2 L190.9,913.2 C205,888 240,867 282.2,858.8 Z"/>
<path fill="#26B7F0" d="M647.8,847.7 C697,848 743,866.5 758.4,900.6 L778.5,900.6 L749,927.8 L718.1,900.6 L738.7,900.6 C725,877 690,856 647.8,847.7 Z"/>
<path fill="#E8381B" d="M319.5,1129.5 C313.5,1132.5 309.5,1138 309,1144.5 C308.8,1151 312,1157.5 318,1161.8 C322.5,1164.6 329,1166.4 335.4,1167.6 L335.2,1166.5 C331.5,1165.6 328.5,1164.6 326.2,1163.6 C320,1159.5 316,1154 314.8,1148.5 C313.8,1143 314.8,1137.5 317.5,1133 C318.6,1131.2 319.8,1129.6 320.8,1128.4 Z"/>
<path fill="#E8381B" d="M313.5,1135 L320.9,1127.2 L317.5,1134.5 Z"/>
<path fill="#E8381B" d="M311,1138 L316.6,1126.4 L315.5,1137 Z"/>
<path fill="#E8381B" d="M309.5,1142 L311.4,1129.6 L314,1141 Z"/>
<path fill="#E8381B" d="M309,1146.5 L307.2,1133.8 L313.8,1145 Z"/>
<path fill="#E8381B" d="M309.6,1151 L304.6,1138.8 L314.4,1149.5 Z"/>
<path fill="#E8381B" d="M311.2,1155 L304.2,1144.6 L315.8,1153 Z"/>
<path fill="#E8381B" d="M313.8,1158.6 L305.4,1150.4 L318,1156.6 Z"/>
<path fill="#E8381B" d="M317,1161.6 L308.4,1155.8 L321.5,1159.6 Z"/>
<path fill="#E8381B" d="M321,1164 L312.6,1160.6 L325.5,1162.6 Z"/>
<path fill="#4561CD" d="M334.6,1129.6 C339.5,1131.2 344,1136 345.6,1142 C346.8,1148 345.4,1154 341.4,1158.6 C337.5,1162.4 331,1164.6 320.3,1167.6 L320.2,1166.5 C326,1165.2 330,1164 332.2,1162.8 C337,1159.5 340.4,1155.5 341.6,1150.5 C342.6,1145.5 341.8,1140.5 339.4,1136.4 C337.8,1133.8 335.8,1131.6 333.8,1130.6 Z"/>
<ellipse cx="336.6" cy="1129.2" rx="3.2" ry="1.9" fill="#4561CD" transform="rotate(25 336.6 1129.2)"/>
<ellipse cx="340.6" cy="1131.0" rx="3.2" ry="2.0" fill="#4561CD" transform="rotate(35 340.6 1131.0)"/>
<ellipse cx="343.6" cy="1134.2" rx="3.2" ry="2.0" fill="#4561CD" transform="rotate(55 343.6 1134.2)"/>
<ellipse cx="346.4" cy="1138.2" rx="3.2" ry="2.0" fill="#4561CD" transform="rotate(70 346.4 1138.2)"/>
<ellipse cx="347.8" cy="1142.8" rx="3.2" ry="2.0" fill="#4561CD" transform="rotate(88 347.8 1142.8)"/>
<ellipse cx="347.8" cy="1147.6" rx="3.2" ry="2.0" fill="#4561CD" transform="rotate(100 347.8 1147.6)"/>
<ellipse cx="346.8" cy="1152.4" rx="3.2" ry="2.0" fill="#4561CD" transform="rotate(112 346.8 1152.4)"/>
<ellipse cx="344.4" cy="1156.6" rx="3.2" ry="2.0" fill="#4561CD" transform="rotate(128 344.4 1156.6)"/>
<ellipse cx="341" cy="1160.0" rx="3.2" ry="2.0" fill="#4561CD" transform="rotate(142 341 1160.0)"/>
<ellipse cx="336.6" cy="1162.6" rx="3.2" ry="1.9" fill="#4561CD" transform="rotate(155 336.6 1162.6)"/>
<ellipse cx="342.2" cy="1139.6" rx="2.4" ry="1.6" fill="#4561CD" transform="rotate(60 342.2 1139.6)"/>
<ellipse cx="343.4" cy="1146" rx="2.4" ry="1.6" fill="#4561CD" transform="rotate(90 343.4 1146)"/>
<ellipse cx="341.6" cy="1152.6" rx="2.4" ry="1.6" fill="#4561CD" transform="rotate(120 341.6 1152.6)"/>
<ellipse cx="337.4" cy="1157.6" rx="2.4" ry="1.6" fill="#4561CD" transform="rotate(140 337.4 1157.6)"/>
<path fill="#F2B20E" d="M327.80,1138.50 L330.15,1144.16 L336.26,1144.65 L331.60,1148.64 L333.03,1154.60 L327.80,1151.40 L322.57,1154.60 L324.00,1148.64 L319.34,1144.65 L325.45,1144.16 Z"/>
<text font-family="'Liberation Serif', serif" fill="#1b1b1b"><tspan x="357.40" y="1143.00" font-size="20.22" font-weight="bold" textLength="113.68" lengthAdjust="spacingAndGlyphs" stroke="#1b1b1b" stroke-width="0.3" stroke-linejoin="round" stroke-miterlimit="3">GOBIERNO</tspan> <tspan x="472.50" y="1143.00" font-size="12.70" font-weight="bold" textLength="27.26" lengthAdjust="spacingAndGlyphs" stroke="#1b1b1b" stroke-width="0.2" stroke-linejoin="round" stroke-miterlimit="3">DEL</tspan></text>
<text x="359.25" y="1163.80" font-family="'Liberation Serif', serif" font-weight="bold" font-size="24.18" fill="#1b1b1b" textLength="140.34" lengthAdjust="spacingAndGlyphs">PARAGUAY</text>
<rect x="511.3" y="1128.8" width="0.8" height="35.5" fill="#444"/>
<text x="524.55" y="1133.50" font-family="'Liberation Sans', sans-serif" font-weight="bold" font-size="5.51" fill="#1b1b1b" textLength="48.61" lengthAdjust="spacingAndGlyphs">MINISTERIO DE</text>
<text x="525.00" y="1145.50" font-family="'Liberation Serif', serif" font-weight="bold" font-size="12.70" fill="#1b1b1b" textLength="111.26" lengthAdjust="spacingAndGlyphs" stroke="#1b1b1b" stroke-width="0.2" stroke-linejoin="round" stroke-miterlimit="3">TRABAJO, EMPLEO</text>
<text x="525.00" y="1157.80" font-family="'Liberation Serif', serif" font-weight="bold" font-size="12.70" fill="#1b1b1b" textLength="128.30" lengthAdjust="spacingAndGlyphs" stroke="#1b1b1b" stroke-width="0.2" stroke-linejoin="round" stroke-miterlimit="3">Y SEGURIDAD SOCIAL</text>
<text x="524.55" y="1164.30" font-family="'Liberation Sans', sans-serif" font-weight="bold" font-size="5.51" fill="#1b1b1b" textLength="35.66" lengthAdjust="spacingAndGlyphs">PARAGUAY</text>
</svg>
</body>
</html>
